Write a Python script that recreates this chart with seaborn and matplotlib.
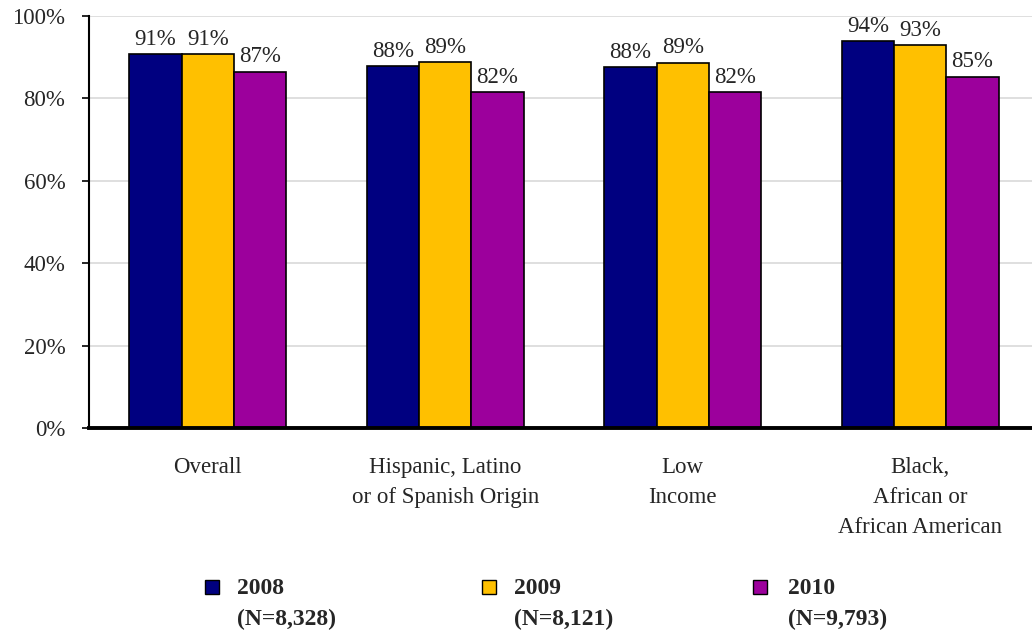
import matplotlib
matplotlib.use("Agg")
import matplotlib.pyplot as plt
from matplotlib.patches import Rectangle
import seaborn as sns
import pandas as pd

categories = ["Overall", "Hispanic, Latino\nor of Spanish Origin", "Low\nIncome",
              "Black,\nAfrican or\nAfrican American"]
years = ["2008", "2009", "2010"]
sample_sizes = ["(N=8,328)", "(N=8,121)", "(N=9,793)"]
values_2008 = [90.8, 87.8, 87.7, 94.0]
values_2009 = [90.8, 88.8, 88.7, 93.0]
values_2010 = [86.5, 81.6, 81.5, 85.3]
labels_2008 = ["91%", "88%", "88%", "94%"]
labels_2009 = ["91%", "89%", "89%", "93%"]
labels_2010 = ["87%", "82%", "82%", "85%"]
yticks = [0, 20, 40, 60, 80, 100]
ytick_labels = ["0%", "20%", "40%", "60%", "80%", "100%"]
colors = ["#000080", "#FFC000", "#9C009C"]

sns.set_style("white")
plt.rcParams["font.family"] = ["Liberation Serif", "DejaVu Serif"]

rows = []
for yr, vals in zip(years, [values_2008, values_2009, values_2010]):
    for c, v in zip(categories, vals):
        rows.append({"category": c, "year": yr, "value": v})
df = pd.DataFrame(rows)

fig = plt.figure(figsize=(10.32, 6.32), dpi=100)
ax = fig.add_axes([89 / 1032, 1 - 428 / 632, 950 / 1032, 412 / 632])

sns.barplot(data=df, x="category", y="value", hue="year", order=categories,
            hue_order=years, palette=colors, width=0.66, edgecolor="black",
            linewidth=1.2, saturation=1, legend=False, ax=ax)

all_labels = [labels_2008, labels_2009, labels_2010]
for cont, labs in zip(ax.containers, all_labels):
    ax.bar_label(cont, labels=labs, padding=3, fontsize=16.5)

ax.set_ylim(0, 100)
ax.set_xlim(-0.5, 3.5)
ax.set_yticks(yticks)
ax.set_yticklabels(ytick_labels, fontsize=16.5)
ax.yaxis.grid(True, color="#d9d9d9", linewidth=1.2)
ax.set_axisbelow(True)
ax.set_xlabel("")
ax.set_ylabel("")

ax.set_xticks([0, 1, 2, 3])
ax.set_xticklabels(categories, fontsize=16.5, linespacing=1.55, va="top")
ax.tick_params(axis="x", length=0, pad=21)
ax.set_xticks([-0.5, 0.5, 1.5, 2.5], minor=True)
ax.tick_params(axis="x", which="minor", length=6, width=1.2, direction="out", color="black")
ax.tick_params(axis="y", length=5, width=1.2, direction="out", color="black", pad=12, left=True)

for s in ["top", "right"]:
    ax.spines[s].set_visible(False)
ax.spines["left"].set_color("black")
ax.spines["left"].set_linewidth(1.5)
ax.spines["bottom"].set_color("black")
ax.spines["bottom"].set_linewidth(2.8)

# legend
marker_x = [205 / 1032, 482 / 1032, 753 / 1032]
text_x = [237 / 1032, 514 / 1032, 788 / 1032]
for mx, tx, col, yr, n in zip(marker_x, text_x, colors, years, sample_sizes):
    fig.add_artist(Rectangle((mx, 1 - 594 / 632), 14 / 1032, 14 / 632,
                             transform=fig.transFigure, facecolor=col,
                             edgecolor="black", linewidth=1.0))
    fig.text(tx, 1 - 589 / 632, yr, fontsize=17, fontweight="bold", va="center", ha="left")
    fig.text(tx, 1 - 619 / 632, n, fontsize=17, fontweight="bold", va="center", ha="left")

fig.savefig("out.png", dpi=100)
